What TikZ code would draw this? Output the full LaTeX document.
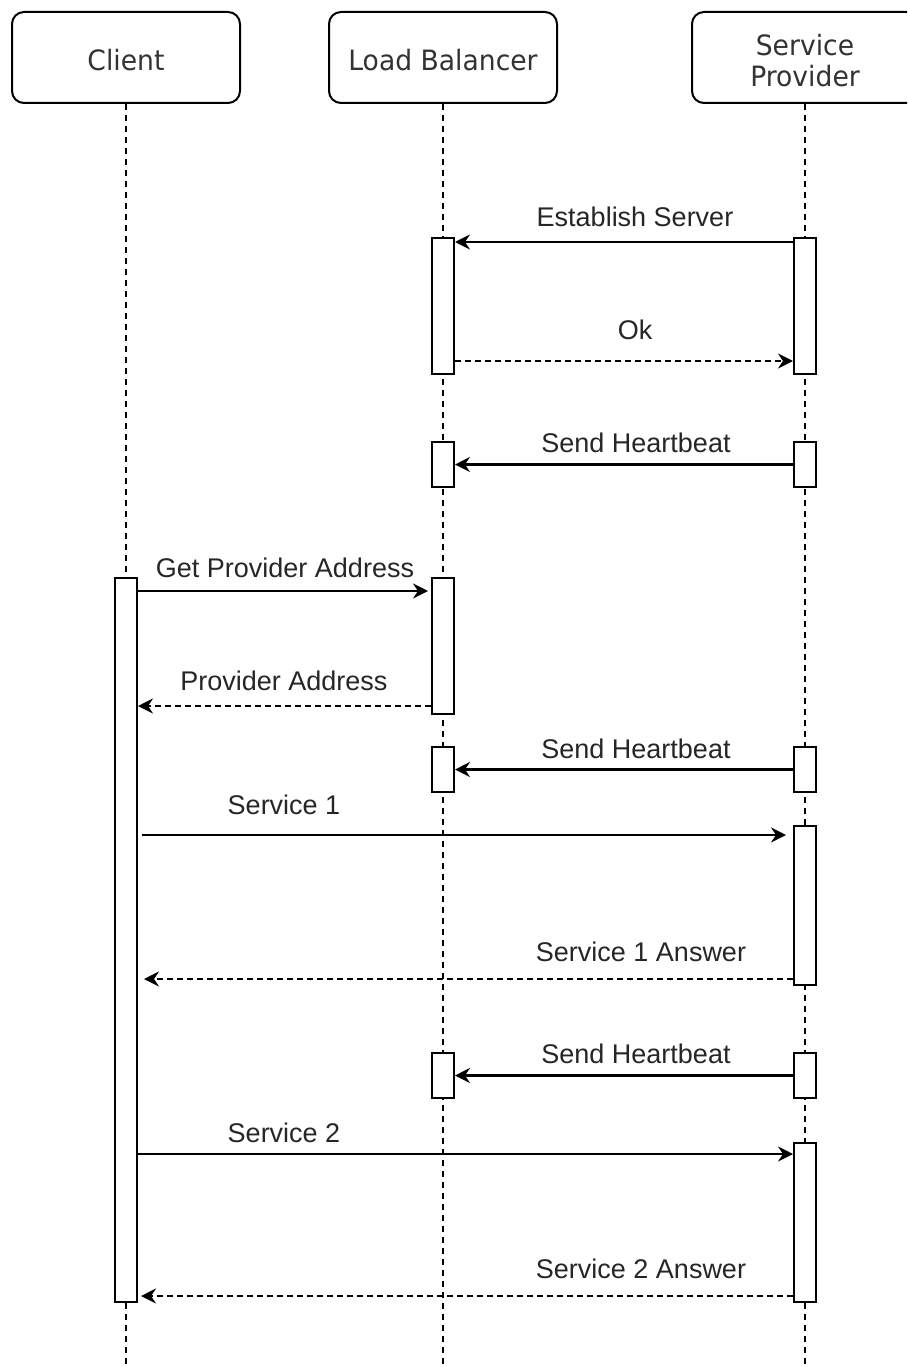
\documentclass[tikz,border=0pt]{standalone}
\usepackage{fontspec}
\setmainfont{Liberation Sans}
\newfontfamily\headfont{DejaVu Sans}[FakeStretch=0.95]
\usetikzlibrary{arrows.meta}

\begin{document}
\begin{tikzpicture}[x=1pt,y=-1pt,
  actor/.style={draw=black, line width=2pt, rounded corners=12pt, fill=white,
    minimum width=228pt, minimum height=91pt, inner sep=0pt},
  head/.style={inner sep=0pt, align=center, yshift=-3pt,
    font=\headfont\fontsize{28}{31}\selectfont, text=black!80},
  act/.style={draw=black, line width=2pt, fill=white, minimum width=22pt,
    inner sep=0pt},
  life/.style={line width=1.6pt, dash pattern=on 6pt off 5pt},
  msg/.style={line width=2.2pt, -{Stealth[length=15pt,width=15pt,inset=5pt]}},
  reply/.style={msg, dash pattern=on 6pt off 4pt},
  lbl/.style={anchor=base, inner sep=0pt, text=black!85,
    font=\fontsize{27}{30}\selectfont}]

\useasboundingbox (0,0) rectangle (907,1367);
\clip (0,0) rectangle (907,1367);

% participants
\node[actor, label={[head]center:Client}] (client) at (126,57.5) {};
\node[actor, label={[head]center:Load Balancer}] (lb) at (443,57.5) {};
\node[actor, label={[head, xshift=-1pt]center:Service\\Provider}] (sp) at (806,57.5) {};

% lifelines
\coordinate (clEnd) at (126,1367);
\coordinate (lbEnd) at (443,1367);
\coordinate (spEnd) at (805,1367);
\draw[life] (client.south) -- (clEnd);
\draw[life] (lb.south) -- (lbEnd);
\draw[life] (sp.south -| spEnd) -- (spEnd);

% activation bars
\node[act, minimum height=136pt] (lb1) at (443,306) {};
\node[act, minimum height=136pt] (sp1) at (805,306) {};
\node[act, minimum height=45pt] (lb2) at (443,464.5) {};
\node[act, minimum height=45pt] (sp2) at (805,464.5) {};
\node[act, minimum height=724pt] (cl1) at (126,940) {};
\node[act, minimum height=136pt] (lb3) at (443,646) {};
\node[act, minimum height=45pt] (lb4) at (443,769.5) {};
\node[act, minimum height=45pt] (sp3) at (805,769.5) {};
\node[act, minimum height=159pt] (sp4) at (805,905.5) {};
\node[act, minimum height=45pt] (lb5) at (443,1075.5) {};
\node[act, minimum height=45pt] (sp5) at (805,1075.5) {};
\node[act, minimum height=159pt] (sp6) at (805,1222.5) {};

% messages
\draw[msg] ([yshift=-5pt]sp1.north west) -- ([yshift=-5pt]lb1.north east);
\node[lbl] (tEst) at (635,226) {Establish Server};

\draw[reply] ([yshift=14pt]lb1.south east) -- ([yshift=14pt]sp1.south west);
\node[lbl] (tOk) at (635,339) {Ok};

\draw[msg] (sp2.west) -- (lb2.east);
\node[lbl] (tHb1) at (636,452) {Send Heartbeat};

\draw[msg] ([yshift=-14pt]cl1.north east) -- ([yshift=-14pt,xshift=-3pt]lb3.north west);
\node[lbl] (tGpa) at (285,577) {Get Provider Address};

\coordinate (pa) at ([yshift=9pt]lb3.south west);
\draw[reply] (pa) -- (cl1.east |- pa);
\node[lbl] (tPa) at (284,690) {Provider Address};

\draw[msg] (sp3.west) -- (lb4.east);
\node[lbl] (tHb2) at (636,758) {Send Heartbeat};

\coordinate (s1) at ([yshift=-10pt]sp4.north west);
\draw[msg] ([xshift=4pt]cl1.east |- s1) -- ([xshift=-7pt]s1);
\node[lbl] (tS1) at (284,814) {Service 1};

\coordinate (s1a) at ([yshift=7pt]sp4.south west);
\draw[reply] (s1a) -- ([xshift=6pt]cl1.east |- s1a);
\node[lbl] (tS1a) at (641,961) {Service 1 Answer};

\draw[msg] (sp5.west) -- (lb5.east);
\node[lbl] (tHb3) at (636,1063) {Send Heartbeat};

\coordinate (s2) at ([yshift=-12pt]sp6.north west);
\draw[msg] (cl1.east |- s2) -- (s2);
\node[lbl] (tS2) at (284,1142) {Service 2};

\coordinate (s2a) at ([yshift=7pt]sp6.south west);
\draw[reply] (s2a) -- ([xshift=3pt]cl1.east |- s2a);
\node[lbl] (tS2a) at (641,1278) {Service 2 Answer};

\end{tikzpicture}
\end{document}
